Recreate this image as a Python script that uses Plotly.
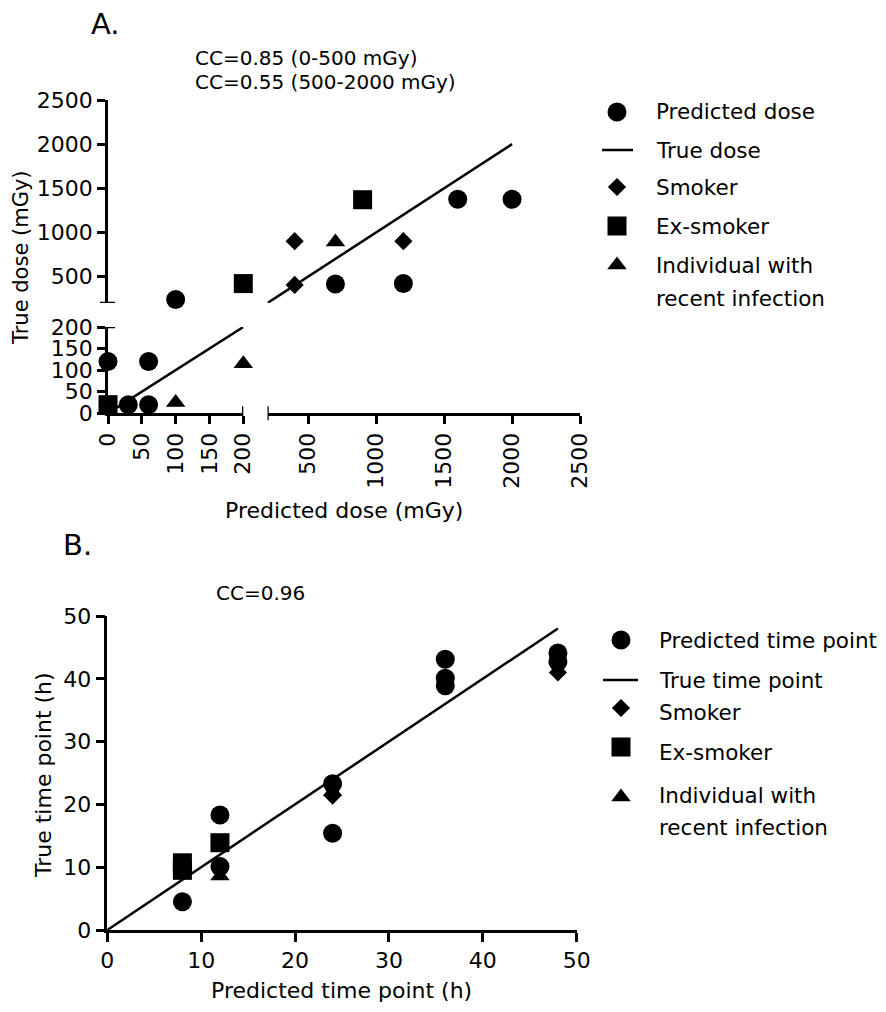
import plotly.graph_objects as go

# The page adds an 8px body margin on every side; the figure fills the rest of the window
OFF = 8
W, H = 886 - 2 * OFF, 1012 - 2 * OFF
FONT = "DejaVu Sans"


def px(x):
    return (x - OFF) / W


def py(y):
    return 1 - (y - OFF) / H


# ---------------- Panel A data (dose) ----------------
a_pred_x = [0, 30, 60, 60, 100, 700, 1200, 1600, 2000]
a_pred_y = [120, 20, 20, 120, 240, 415, 420, 1375, 1375]
a_smoker_x = [400, 400, 1200]
a_smoker_y = [900, 405, 900]
a_exsmoker_x = [0, 200, 900]
a_exsmoker_y = [20, 420, 1370]
a_infect_x = [100, 200, 700]
a_infect_y = [25, 115, 890]
a_true_low = [0, 200]
a_true_high = [200, 2000]
a_break = 200
a_ticks_low = [0, 50, 100, 150, 200]
a_ticks_high = [500, 1000, 1500, 2000, 2500]

# ---------------- Panel B data (time) ----------------
b_pred_x = [8, 12, 12, 24, 24, 36, 36, 36, 48, 48]
b_pred_y = [4.5, 18.3, 10.1, 23.3, 15.4, 43.1, 40.1, 38.9, 44.1, 42.7]
b_smoker_x = [24, 48]
b_smoker_y = [21.4, 41.0]
b_exsmoker_x = [8, 8, 12]
b_exsmoker_y = [9.5, 10.7, 13.9]
b_infect_x = [12, 24]
b_infect_y = [8.6, 22.0]
b_true_x = [0, 48]
b_true_y = [0, 48]
b_ticks = [0, 10, 20, 30, 40, 50]

legend_a = ["Predicted dose", "True dose", "Smoker", "Ex-smoker",
            "Individual with", "recent infection"]
legend_b = ["Predicted time point", "True time point", "Smoker", "Ex-smoker",
            "Individual with", "recent infection"]

SYM = {"circle": 19, "diamond": 14, "square": 19, "triangle-up": 17}
LW = 2.5

fig = go.Figure()


def seg_axes(x, y):
    xa = "x" if x <= a_break else "x2"
    ya = "y" if y <= a_break else "y2"
    return xa, ya


def add_panel_a_points(xs, ys, symbol, name):
    groups = {}
    for x, y in zip(xs, ys):
        key = seg_axes(x, y)
        groups.setdefault(key, ([], []))
        groups[key][0].append(x)
        groups[key][1].append(y)
    for (xa, ya), (gx, gy) in groups.items():
        fig.add_trace(go.Scatter(
            x=gx, y=gy, xaxis=xa, yaxis=ya, mode="markers", name=name,
            marker=dict(symbol=symbol, size=SYM[symbol], color="black"),
            cliponaxis=False, showlegend=False))


# true dose lines
fig.add_trace(go.Scatter(x=a_true_low, y=a_true_low, xaxis="x", yaxis="y",
                         mode="lines", line=dict(color="black", width=LW),
                         showlegend=False, name="True dose"))
fig.add_trace(go.Scatter(x=a_true_high, y=a_true_high, xaxis="x2", yaxis="y2",
                         mode="lines", line=dict(color="black", width=LW),
                         showlegend=False, name="True dose"))
add_panel_a_points(a_pred_x, a_pred_y, "circle", "Predicted dose")
add_panel_a_points(a_smoker_x, a_smoker_y, "diamond", "Smoker")
add_panel_a_points(a_exsmoker_x, a_exsmoker_y, "square", "Ex-smoker")
add_panel_a_points(a_infect_x, a_infect_y, "triangle-up", "Individual with recent infection")

# Panel B
fig.add_trace(go.Scatter(x=b_true_x, y=b_true_y, xaxis="x4", yaxis="y4",
                         mode="lines", line=dict(color="black", width=LW),
                         showlegend=False, name="True time point"))
for xs, ys, sym, nm in [(b_pred_x, b_pred_y, "circle", "Predicted time point"),
                        (b_smoker_x, b_smoker_y, "diamond", "Smoker"),
                        (b_exsmoker_x, b_exsmoker_y, "square", "Ex-smoker"),
                        (b_infect_x, b_infect_y, "triangle-up", "Individual with recent infection")]:
    fig.add_trace(go.Scatter(x=xs, y=ys, xaxis="x4", yaxis="y4", mode="markers",
                             marker=dict(symbol=sym, size=SYM[sym], color="black"),
                             cliponaxis=False, showlegend=False, name=nm))

# ---------------- manual legends on a pixel overlay axis ----------------
leg_sym_order = ["circle", None, "diamond", "square", "triangle-up"]


def draw_legend(sym_x, line_x0, line_x1, sym_ys, text_x, text_ys, labels):
    for sym, yy in zip(leg_sym_order, sym_ys):
        if sym is None:
            fig.add_trace(go.Scatter(x=[line_x0, line_x1], y=[yy, yy], xaxis="x3", yaxis="y3",
                                     mode="lines", line=dict(color="black", width=LW),
                                     showlegend=False, hoverinfo="skip"))
        else:
            fig.add_trace(go.Scatter(x=[sym_x], y=[yy], xaxis="x3", yaxis="y3", mode="markers",
                                     marker=dict(symbol=sym, size=SYM[sym], color="black"),
                                     cliponaxis=False, showlegend=False, hoverinfo="skip"))
    for lab, ty in zip(labels, text_ys):
        fig.add_annotation(x=px(text_x), y=py(ty), xref="paper", yref="paper",
                           text=lab, showarrow=False, xanchor="left", yanchor="middle",
                           font=dict(family=FONT, size=21.5, color="black"))


draw_legend(617, 602, 633, [112, 150, 187, 226, 265], 654,
            [112, 150, 187, 226, 265, 298], legend_a)
draw_legend(621, 603, 638, [640, 680, 708, 747, 797], 657,
            [640, 680, 712, 752, 795, 827], legend_b)

# ---------------- axes ----------------
tickfont = dict(family=FONT, size=22, color="black")
common = dict(showline=True, linecolor="black", linewidth=LW, ticks="outside",
              ticklen=8, tickwidth=LW, tickcolor="black", showgrid=False,
              zeroline=False, tickfont=tickfont, fixedrange=True, tickmode="array",
              automargin=False)

fig.update_layout(
    template="none",
    width=W, height=H, margin=dict(l=0, r=0, t=0, b=0, pad=0, autoexpand=False),
    paper_bgcolor="white", plot_bgcolor="rgba(0,0,0,0)", showlegend=False,
    xaxis=dict(domain=[px(108), px(243.3)], range=[0, a_break], anchor="y",
               tickvals=a_ticks_low, tickangle=-90, **common),
    xaxis2=dict(domain=[px(267.5), px(580)], range=[a_break, 2500], anchor="y",
                tickvals=a_ticks_high, tickangle=-90, **common),
    yaxis=dict(domain=[py(413.3), py(327)], range=[0, a_break], anchor="x",
               tickvals=a_ticks_low, **common),
    yaxis2=dict(domain=[py(303), py(100)], range=[a_break, 2500], anchor="x",
                tickvals=a_ticks_high, **common),
    xaxis4=dict(domain=[px(107.3), px(576.7)], range=[0, 50], anchor="y4",
                tickvals=b_ticks, **dict(common, ticklen=9)),
    yaxis4=dict(domain=[py(930), py(616)], range=[0, 50], anchor="x4",
                tickvals=b_ticks, **dict(common, ticklen=9)),
    xaxis3=dict(domain=[0, 1], range=[OFF, OFF + W], visible=False, fixedrange=True,
                anchor="y3", automargin=False),
    yaxis3=dict(domain=[0, 1], range=[OFF + H, OFF], visible=False, fixedrange=True,
                anchor="x3", automargin=False),
)

# break caps at the ends of the broken axis segments
cap = 7
for xa in ["x", "x2"]:
    fig.add_shape(type="line", xref=xa, yref="paper", x0=a_break, x1=a_break,
                  y0=py(413.3 - cap), y1=py(413.3 + cap), line=dict(color="black", width=LW))
for ya in ["y", "y2"]:
    fig.add_shape(type="line", xref="paper", yref=ya, y0=a_break, y1=a_break,
                  x0=px(108 - cap - 1), x1=px(108 + cap), line=dict(color="black", width=LW))


# ---------------- text ----------------
def txt(x, y, s, size=22, xanchor="center", angle=0):
    fig.add_annotation(x=px(x), y=py(y), xref="paper", yref="paper", text=s,
                       showarrow=False, xanchor=xanchor, yanchor="middle", textangle=angle,
                       font=dict(family=FONT, size=size, color="black"))


txt(89, 24, "A.", size=29, xanchor="left")
txt(61, 545, "B.", size=29, xanchor="left")
txt(193, 58, "CC=0.85 (0-500 mGy)", size=20, xanchor="left")
txt(193, 82, "CC=0.55 (500-2000 mGy)", size=20, xanchor="left")
txt(214, 593, "CC=0.96", size=20, xanchor="left")
txt(21, 258, "True dose (mGy)", size=21, angle=-90)
txt(344, 510, "Predicted dose (mGy)")
txt(43, 775, "True time point (h)", angle=-90)
txt(341, 990, "Predicted time point (h)")

fig.write_html("out.html")
